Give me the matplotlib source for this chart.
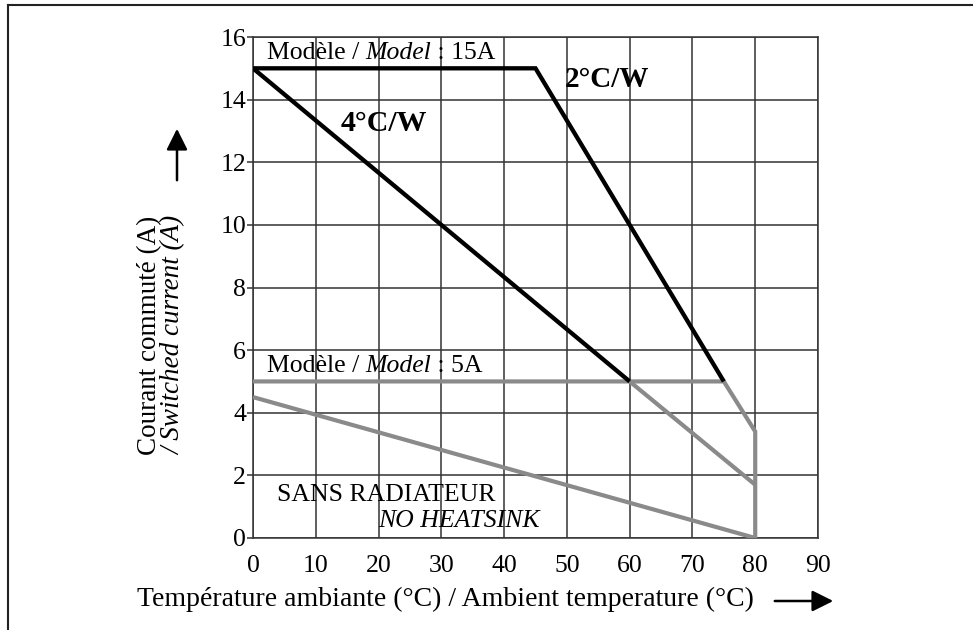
import matplotlib.pyplot as plt
from matplotlib.lines import Line2D
from matplotlib.patches import FancyArrowPatch

plt.rcParams['font.family'] = ['Liberation Serif', 'DejaVu Serif']

# Modèle 15A (noir)
t_15a_2cw = [0, 45, 75]
i_15a_2cw = [15, 15, 5]
t_15a_4cw = [0, 60]
i_15a_4cw = [15, 5]

# Modèle 5A (gris)
t_5a_top = [0, 75, 80, 80]
i_5a_top = [5, 5, 3.4, 0]
t_5a_mid = [60, 80]
i_5a_mid = [5, 1.7]
t_sans_rad = [0, 80]
i_sans_rad = [4.5, 0]

x_ticks = [0, 10, 20, 30, 40, 50, 60, 70, 80, 90]
y_ticks = [0, 2, 4, 6, 8, 10, 12, 14, 16]

noir = '#000000'
gris = '#8a8a8a'
grille = '#333333'
fs = 18.5

fig = plt.figure(figsize=(9.73, 6.3), dpi=100)
ax = fig.add_axes([253 / 973, 1 - 538 / 630, 565 / 973, 501 / 630])

ax.plot(t_sans_rad, i_sans_rad, color=gris, lw=3.0, solid_capstyle='butt', zorder=3)
ax.plot(t_5a_mid, i_5a_mid, color=gris, lw=3.0, solid_capstyle='butt', zorder=3)
ax.plot(t_5a_top, i_5a_top, color=gris, lw=3.0, solid_capstyle='butt', solid_joinstyle='miter', zorder=3)
ax.plot(t_15a_4cw, i_15a_4cw, color=noir, lw=3.1, solid_capstyle='butt', zorder=4)
ax.plot(t_15a_2cw, i_15a_2cw, color=noir, lw=3.1, solid_capstyle='butt', solid_joinstyle='miter', zorder=4)

ax.set_xlim(0, 90)
ax.set_ylim(0, 16)
ax.set_xticks(x_ticks)
ax.set_yticks(y_ticks)
ax.grid(True, color=grille, lw=1.1)
ax.set_axisbelow(True)
for s in ax.spines.values():
    s.set_color(grille)
    s.set_linewidth(1.1)
ax.tick_params(axis='x', length=0, pad=12, labelsize=18.5)
ax.tick_params(axis='y', length=4, width=1.1, color=grille, pad=1, labelsize=18.5)


def texte_modele(x, y, suffixe):
    # "Modèle / " droit, "Model" en italique, puis " : 15A"
    inv = ax.transData.inverted()
    a = ax.text(x, y, 'Modèle / ', fontsize=fs, va='baseline')
    fig.canvas.draw()
    x2 = inv.transform((a.get_window_extent().x1, 0))[0]
    b = ax.text(x2, y, 'Model', fontsize=fs, va='baseline', style='italic')
    fig.canvas.draw()
    x3 = inv.transform((b.get_window_extent().x1, 0))[0]
    ax.text(x3, y, ' : ' + suffixe, fontsize=fs, va='baseline')


texte_modele(2.2, 15.3, '15A')
texte_modele(2.2, 5.3, '5A')

ax.text(49.7, 14.4, '2°C/W', fontsize=21, fontweight='bold', va='baseline')
ax.text(13.9, 13.0, '4°C/W', fontsize=21.5, fontweight='bold', va='baseline')
ax.text(3.8, 1.18, 'SANS RADIATEUR', fontsize=fs, va='baseline')
ax.text(19.9, 0.35, 'NO HEATSINK', fontsize=fs, va='baseline', style='italic')

# titres des axes
fig.text(137 / 973, 1 - 606 / 630, 'Température ambiante (°C) / Ambient temperature (°C)',
         fontsize=20, va='baseline', ha='left')
fig.text(150 / 973, 1 - 335 / 630, 'Courant commuté (A)', fontsize=19.5, rotation=90,
         ha='center', va='center')
fig.text(174 / 973, 1 - 335 / 630, '/ Switched current (A)', fontsize=19.5, rotation=90,
         ha='center', va='center', style='italic')

# flèches
fig.patches.append(FancyArrowPatch(
    (772 / 973, 1 - 601 / 630), (836 / 973, 1 - 601 / 630), transform=fig.transFigure,
    arrowstyle='-|>,head_length=8,head_width=4', color='black', lw=1.8, mutation_scale=1.6))
fig.patches.append(FancyArrowPatch(
    (177 / 973, 1 - 183 / 630), (177 / 973, 1 - 126 / 630), transform=fig.transFigure,
    arrowstyle='-|>,head_length=8,head_width=4', color='black', lw=1.8, mutation_scale=1.6))

# cadre
fig.lines.append(Line2D([8 / 973, 1], [1 - 5 / 630, 1 - 5 / 630], transform=fig.transFigure,
                        color='#222222', lw=1.5))
fig.lines.append(Line2D([8 / 973, 8 / 973], [0, 1 - 5 / 630], transform=fig.transFigure,
                        color='#222222', lw=1.5))

fig.savefig('out.png', dpi=100)
